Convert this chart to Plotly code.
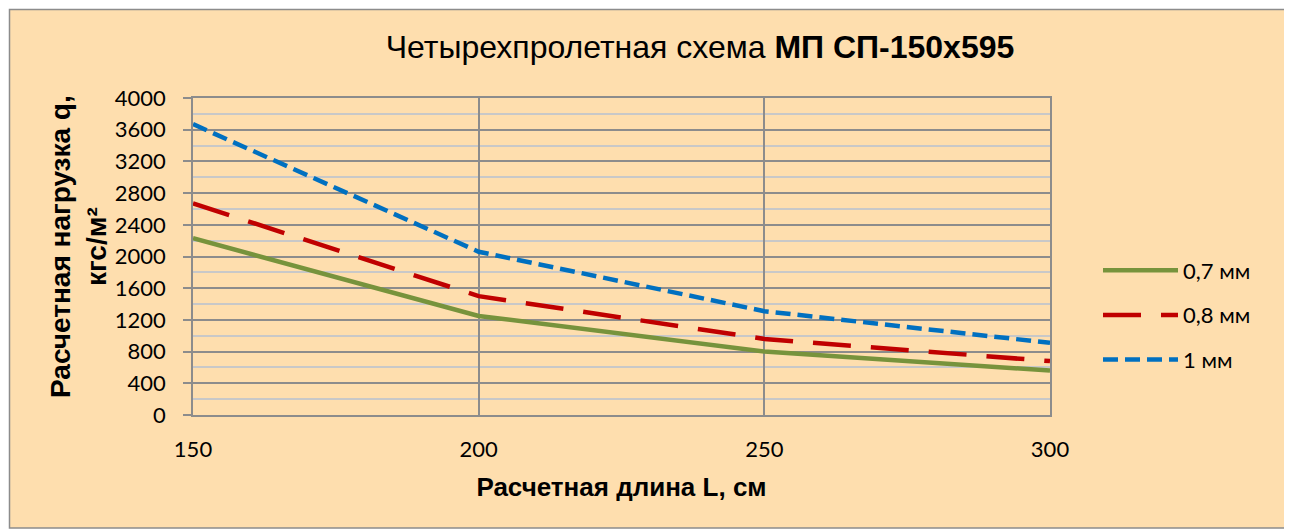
import plotly.graph_objects as go

# ---- data ----
L_cm = [150, 200, 250, 300]
q_07 = [2230, 1250, 800, 560]
q_08 = [2670, 1500, 960, 680]
q_10 = [3670, 2060, 1310, 910]
series_names = ["0,7 мм", "0,8 мм", "1 мм"]
y_ticks = list(range(0, 4001, 400))
x_ticks = [150, 200, 250, 300]

OFF = 8  # browser body margin
W, H = 1292 - OFF, 531 - OFF
# plot area in screen pixels
SX0, SX1, SY0, SY1 = 193, 1050, 98, 415
ML, MT = SX0 - OFF, SY0 - OFF
MR, MB = W - (SX1 - OFF), H - (SY1 - OFF)
pw, ph = W - ML - MR, H - MT - MB

def px2x(px):
    return (px - OFF - ML) / pw

def py2y(py):
    return (H - MB - (py - OFF)) / ph

fig = go.Figure()
fig.add_trace(go.Scatter(x=L_cm, y=q_07, name=series_names[0], mode="lines",
                         legendgroup="a",
                         line=dict(color="#77933C", width=4.5)))
fig.add_trace(go.Scatter(x=L_cm, y=q_08, name=series_names[1], mode="lines",
                         legendgroup="b",
                         line=dict(color="#C00000", width=4.5, dash="38px,20px")))
fig.add_trace(go.Scatter(x=L_cm, y=q_10, name=series_names[2], mode="lines",
                         legendgroup="c",
                         line=dict(color="#0070C0", width=4.5, dash="15px,7px")))

# outer chart frame
fig.add_shape(type="rect", xref="paper", yref="paper",
              x0=px2x(OFF + 1.5), x1=px2x(1287), y0=py2y(528), y1=py2y(9.5),
              fillcolor="#FEDEAE", line=dict(color="#8C8C8C", width=1.5),
              layer="below")

fig.add_annotation(text="<b>Расчетная нагрузка q,<br>кгс/м²</b>", xref="paper", yref="paper",
                   x=px2x(78), y=py2y(247), xanchor="center", yanchor="middle",
                   textangle=-90, showarrow=False,
                   font=dict(family="Liberation Sans", size=28, color="black"))

fig.update_layout(
    width=W, height=H,
    margin=dict(l=ML, r=MR, t=MT, b=MB),
    paper_bgcolor="white",
    plot_bgcolor="white",
    title=dict(text="Четырехпролетная схема <b>МП СП-150х595</b>",
               xref="paper", x=px2x(700), xanchor="center",
               yref="container", y=1 - (47 - OFF) / H, yanchor="middle",
               font=dict(family="Liberation Sans", size=32, color="black")),
    legend=dict(x=px2x(1098), y=py2y(315), xanchor="left", yanchor="middle",
                bgcolor="rgba(0,0,0,0)", tracegroupgap=13, itemwidth=75,
                font=dict(family="Lato", size=22, color="black")),
    showlegend=True,
)

fig.update_xaxes(range=[150, 300], tickvals=x_ticks, showgrid=True,
                 gridcolor="#8C8C8C", gridwidth=1.5,
                 showline=True, linecolor="#8C8C8C", linewidth=1.5, mirror=True,
                 ticks="", ticklabelstandoff=14, zeroline=False,
                 tickfont=dict(family="Lato", size=22, color="black"),
                 title=dict(text="<b>Расчетная длина L, см</b>", standoff=17,
                            font=dict(family="Liberation Sans", size=26, color="black")))

fig.update_yaxes(range=[0, 4000], tickvals=y_ticks, showgrid=True,
                 gridcolor="#8C8C8C", gridwidth=1.5,
                 showline=True, linecolor="#8C8C8C", linewidth=1.5, mirror=True,
                 ticks="outside", ticklen=8, tickcolor="#8C8C8C", tickwidth=1.5,
                 ticklabelstandoff=13, zeroline=False,
                 tickfont=dict(family="Lato", size=22, color="black"),
                 minor=dict(dtick=200, showgrid=True, gridcolor="#C8C8C8", gridwidth=1.5, ticks=""))

fig.write_html("out.html")
